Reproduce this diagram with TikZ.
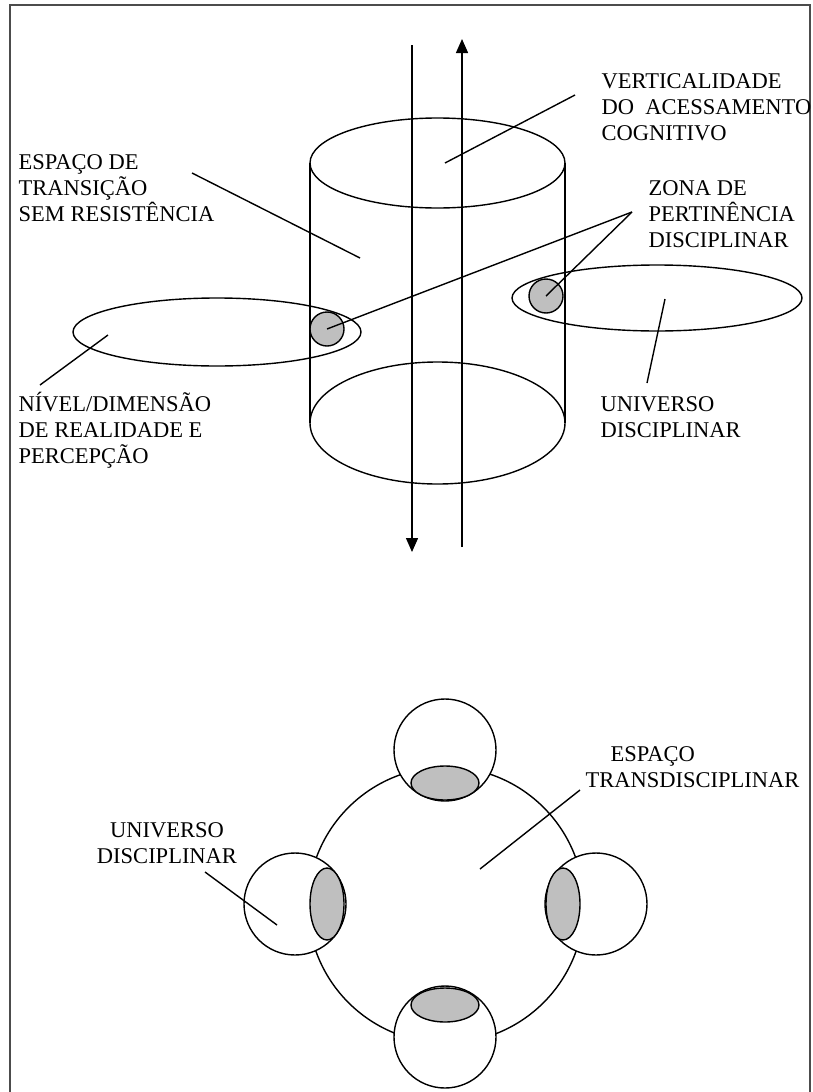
\documentclass[tikz,border=0pt]{standalone}
\usepackage{fontspec}
\setmainfont{Liberation Serif}
\usetikzlibrary{arrows.meta,shapes.geometric}

\tikzset{
  lbl/.style={anchor=base west, align=left, inner sep=0pt},
  zone/.style={circle, draw, fill=gray!50, minimum size=34pt, inner sep=0pt},
  world/.style={circle, draw, fill=white, minimum size=102pt, inner sep=0pt},
  hzone/.style={ellipse, draw, fill=gray!50, minimum width=68pt, minimum height=34pt, inner sep=0pt},
  vzone/.style={ellipse, draw, fill=gray!50, minimum width=34pt, minimum height=72pt, inner sep=0pt},
  tip/.style={-{Triangle[length=14pt,width=12pt]}},
}

\begin{document}
\begin{tikzpicture}[x=1pt, y=-1pt, line width=1.4pt, font=\fontsize{22.5}{26}\selectfont]
    \useasboundingbox (0,0) rectangle (813,1092);
    \draw[gray!60!black, line width=1.5pt] (10,1092) -- (10,5) -- (810,5) -- (810,1092);

    % cylinder
    \draw (437.5,163) ellipse (127.5 and 45);
    \draw (437.5,423) ellipse (127.5 and 61);
    \draw (310,163) -- (310,423);
    \draw (565,163) -- (565,423);

    % levels and zones
    \draw (217,332) ellipse (144 and 34);
    \draw (657,298) ellipse (145 and 33);
    \node[zone] (zl) at (327,329) {};
    \node[zone] (zr) at (546,296) {};

    % vertical arrows
    \coordinate (dtop) at (412,45);
    \coordinate (dbot) at (412,552);
    \coordinate (ubot) at (462,547);
    \coordinate (utop) at (462,39);
    \draw[tip] (dtop) -- (dbot);
    \draw[tip] (ubot) -- (utop);

    % labels (base = last line)
    \node[lbl] (vert) at (601,140) {VERTICALIDADE\\DO\enspace ACESSAMENTO\\COGNITIVO};
    \node[lbl] (esp) at (18,221) {ESPAÇO DE\\TRANSIÇÃO\\SEM RESISTÊNCIA};
    \node[lbl] (zona) at (648,247) {ZONA DE\\PERTINÊNCIA\\DISCIPLINAR};
    \node[lbl] (niv) at (18,463) {NÍVEL/DIMENSÃO\\DE REALIDADE E\\PERCEPÇÃO};
    \node[lbl] (univ) at (600,437) {UNIVERSO\\DISCIPLINAR};

    \coordinate (v1) at (575,95);   \coordinate (v2) at (445,163);
    \coordinate (e1) at (192,173);  \coordinate (e2) at (360,258);
    \coordinate (z0) at (632,212);
    \coordinate (n1) at (40,385);   \coordinate (n2) at (108,335);
    \coordinate (u1) at (647,383);  \coordinate (u2) at (665,299);
    \draw (v1) -- (v2);
    \draw (e1) -- (e2);
    \draw (z0) -- (zl.center);
    \draw (z0) -- (zr.center);
    \draw (n1) -- (n2);
    \draw (u1) -- (u2);

    % transdisciplinary space
    \draw (446,905) circle (138);
    \node[world] (wt) at (445,750) {};
    \node[world] (wl) at (295,904) {};
    \node[world] (wr) at (596,904) {};
    \node[world] (wb) at (445,1037) {};
    \node[hzone] at (445,783) {};
    \node[hzone] at (445,1005) {};
    \node[vzone] at (327,904) {};
    \node[vzone] at (563,904) {};

    \node[lbl] (trans) at (585,787) {\hspace*{25pt}ESPAÇO\\TRANSDISCIPLINAR};
    \node[anchor=base, align=center, inner sep=0pt] (unib) at (167,863) {UNIVERSO\\DISCIPLINAR};
    \coordinate (t1) at (580,790);  \coordinate (t2) at (480,869);
    \coordinate (b1) at (205,872);  \coordinate (b2) at (277,925);
    \draw (t1) -- (t2);
    \draw (b1) -- (b2);
\end{tikzpicture}
\end{document}
